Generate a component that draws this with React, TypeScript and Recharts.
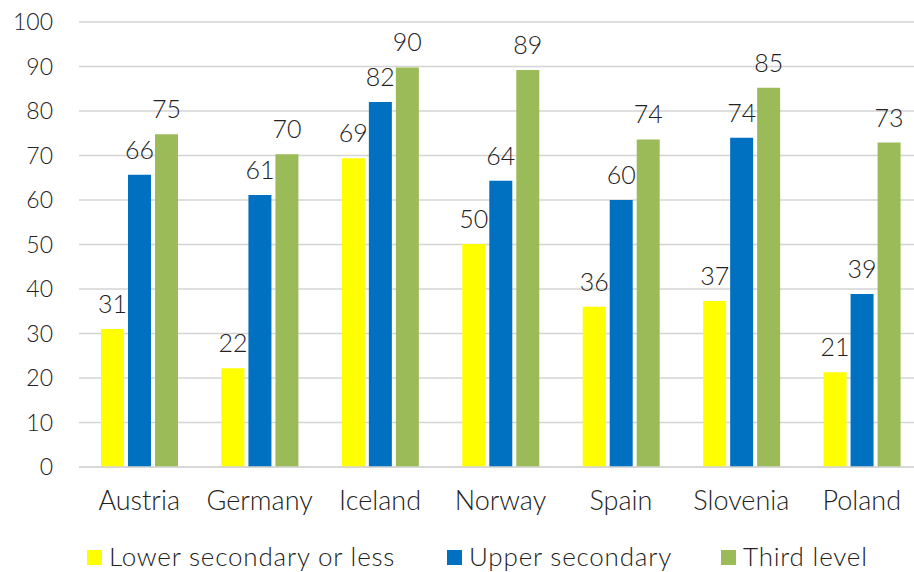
import React from 'react';
import { BarChart, Bar, XAxis, YAxis, CartesianGrid, Legend, LabelList } from 'recharts';

const categories = ['Austria', 'Germany', 'Iceland', 'Norway', 'Spain', 'Slovenia', 'Poland'];
const lowerSecondary = [31.0, 22.2, 69.4, 50.1, 36.0, 37.3, 21.3];
const upperSecondary = [65.7, 61.1, 82.0, 64.3, 60.0, 74.0, 38.9];
const thirdLevel = [74.8, 70.3, 89.8, 89.2, 73.6, 85.2, 72.9];
const yTicks = [0, 10, 20, 30, 40, 50, 60, 70, 80, 90, 100];
const seriesNames = ['Lower secondary or less', 'Upper secondary', 'Third level'];

const COLORS = ['#FFFF00', '#0070C0', '#9BBB59'];
const FONT = 'Lato, "Open Sans", sans-serif';
const TEXT = '#222222';
const WEIGHT = 300;

const data = categories.map((c, i) => ({
  country: c,
  lower: lowerSecondary[i],
  upper: upperSecondary[i],
  third: thirdLevel[i],
}));

const legendLefts = [87, 447, 721];

const renderLegend = () => (
  <div style={{ position: 'relative', width: 914, height: 45 }}>
    {seriesNames.map((name, i) => (
      <div
        key={name}
        style={{
          position: 'absolute',
          left: legendLefts[i],
          top: 14,
          display: 'flex',
          alignItems: 'center',
          fontFamily: FONT,
          fontWeight: WEIGHT,
          fontSize: 26,
          letterSpacing: 0.8,
          color: TEXT,
          lineHeight: '30px',
          whiteSpace: 'nowrap',
        }}
      >
        <span style={{ display: 'inline-block', width: 15, height: 15, background: COLORS[i], marginRight: 7, marginTop: 3 }} />
        <span>{name}</span>
      </div>
    ))}
  </div>
);

const fmt = (v: any) => Math.round(Number(v)).toString();

export default function App() {
  return (
    <div style={{ position: 'absolute', left: 0, top: 0, width: 914, height: 572, background: '#fff', overflow: 'hidden' }}>
      <BarChart
        width={914}
        height={572}
        data={data}
        margin={{ top: 22, right: -8, bottom: 0, left: 0 }}
        barCategoryGap="18%"
        barGap={4}
      >
        <CartesianGrid vertical={false} stroke="#d4d4d4" strokeWidth={1.5} />
        <XAxis
          dataKey="country"
          height={60}
          tickLine={false}
          axisLine={{ stroke: '#d4d4d4', strokeWidth: 1.5 }}
          tickMargin={18}
          tick={{ fill: TEXT, fontSize: 27, fontFamily: FONT, fontWeight: WEIGHT }}
        />
        <YAxis
          width={79}
          domain={[0, 100]}
          ticks={yTicks}
          interval={0}
          tickLine={false}
          axisLine={false}
          tickSize={6}
          tickMargin={20}
          tick={{ fill: TEXT, fontSize: 23, fontFamily: FONT, fontWeight: WEIGHT }}
        />
        <Legend verticalAlign="bottom" content={renderLegend} />
        <Bar dataKey="lower" fill={COLORS[0]} barSize={23} isAnimationActive={false}>
          <LabelList dataKey="lower" position="top" offset={16} formatter={fmt} fill={TEXT} fontSize={25} fontFamily={FONT} fontWeight={WEIGHT} />
        </Bar>
        <Bar dataKey="upper" fill={COLORS[1]} barSize={23} isAnimationActive={false}>
          <LabelList dataKey="upper" position="top" offset={16} formatter={fmt} fill={TEXT} fontSize={25} fontFamily={FONT} fontWeight={WEIGHT} />
        </Bar>
        <Bar dataKey="third" fill={COLORS[2]} barSize={23} isAnimationActive={false}>
          <LabelList dataKey="third" position="top" offset={16} formatter={fmt} fill={TEXT} fontSize={25} fontFamily={FONT} fontWeight={WEIGHT} />
        </Bar>
      </BarChart>
    </div>
  );
}
